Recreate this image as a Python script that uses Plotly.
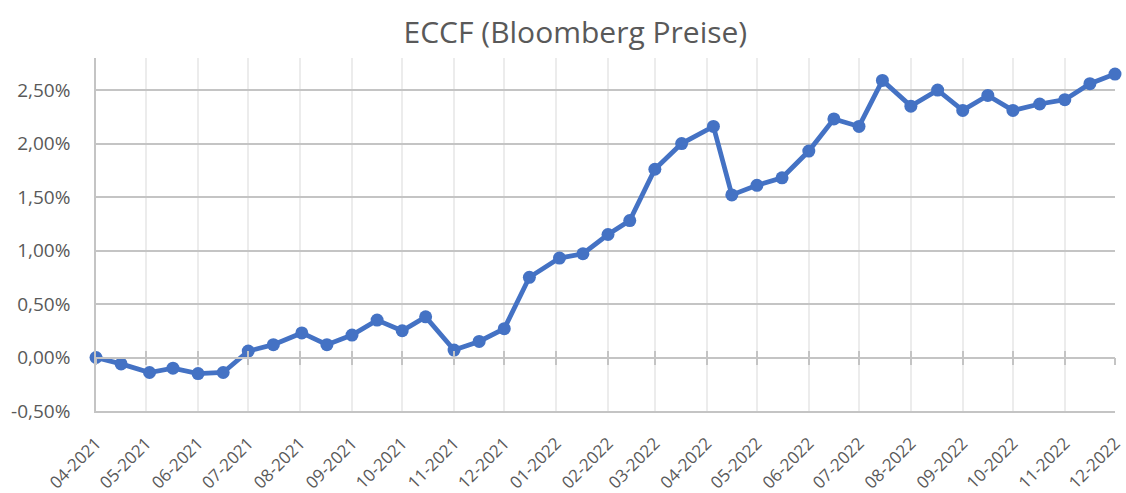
import plotly.graph_objects as go

dates = ["2021-04-01", "2021-04-16", "2021-05-03", "2021-05-17", "2021-06-01", "2021-06-16",
         "2021-07-01", "2021-07-16", "2021-08-02", "2021-08-17", "2021-09-01", "2021-09-16",
         "2021-10-01", "2021-10-15", "2021-11-01", "2021-11-16", "2021-12-01", "2021-12-16",
         "2022-01-03", "2022-01-17", "2022-02-01", "2022-02-14", "2022-03-01", "2022-03-17",
         "2022-04-05", "2022-04-16", "2022-05-01", "2022-05-16", "2022-06-01", "2022-06-16",
         "2022-07-01", "2022-07-15", "2022-08-01", "2022-08-17", "2022-09-01", "2022-09-16",
         "2022-10-01", "2022-10-17", "2022-11-01", "2022-11-16", "2022-12-01"]
values = [0.00, -0.06, -0.14, -0.10, -0.15, -0.14, 0.06, 0.12, 0.23, 0.12, 0.21, 0.35,
          0.25, 0.38, 0.07, 0.15, 0.27, 0.75, 0.93, 0.97, 1.15, 1.28, 1.76, 2.00,
          2.16, 1.52, 1.61, 1.68, 1.93, 2.23, 2.16, 2.59, 2.35, 2.50, 2.31, 2.45,
          2.31, 2.37, 2.41, 2.56, 2.65]

title = "ECCF (Bloomberg Preise)"
x_range = ["2021-04-01", "2022-12-01"]
y_range = [-0.5, 2.8]
y_ticks = [-0.5, 0.0, 0.5, 1.0, 1.5, 2.0, 2.5]
y_ticktext = [f"{v:.2f}".replace(".", ",") + "%" for v in y_ticks]

FONT = "Open Sans"
TXT = "#595959"
GRID_H = "#c4c4c4"
GRID_V = "#ececec"
BLUE = "#4472C4"

zero_pos = (0 - y_range[0]) / (y_range[1] - y_range[0])

fig = go.Figure()
# helper traces so that the zero-line tick axes get rendered (invisible)
for ax in ("x2", "x3"):
    fig.add_trace(go.Scatter(
        x=dates, y=values, xaxis=ax, yaxis="y", mode="lines",
        line=dict(width=0, color="rgba(0,0,0,0)"), opacity=0,
        hoverinfo="skip", showlegend=False,
    ))
fig.add_trace(go.Scatter(
    x=dates, y=values, mode="lines+markers",
    line=dict(color=BLUE, width=4.8),
    marker=dict(color=BLUE, size=13),
    cliponaxis=False, showlegend=False,
))

common_x = dict(type="date", range=x_range, dtick="M1", tick0="2021-04-01", automargin=False)

fig.update_layout(
    width=1126, height=493,
    paper_bgcolor="white", plot_bgcolor="white",
    margin=dict(l=96, r=11, t=58, b=82),
    separators=",.",
    font=dict(family=FONT, color=TXT, size=17),
    title=dict(text=title, x=0.511, xref="container", xanchor="center",
               y=0.935, yref="container", yanchor="middle",
               automargin=False,
               font=dict(family=FONT, size=30, color=TXT)),
    xaxis=dict(**common_x, tickformat="%m-%Y", tickangle=-45,
               showgrid=True, gridcolor=GRID_V, gridwidth=1.5,
               showline=True, linecolor=GRID_H, linewidth=1.5,
               ticks="", ticklabelstandoff=14,
               tickfont=dict(size=17, color=TXT), zeroline=False),
    xaxis2=dict(**common_x, overlaying="x", anchor="free", position=zero_pos,
                showticklabels=False, showgrid=False, zeroline=False,
                showline=True, linecolor=GRID_H, linewidth=1.5,
                ticks="outside", ticklen=7, tickcolor=GRID_H, tickwidth=1.5),
    xaxis3=dict(**common_x, overlaying="x", anchor="free", position=zero_pos,
                showticklabels=False, showgrid=False, zeroline=False,
                showline=False,
                ticks="inside", ticklen=7, tickcolor=GRID_H, tickwidth=1.5),
    yaxis=dict(range=y_range, tickvals=y_ticks, ticktext=y_ticktext,
               showgrid=True, gridcolor=GRID_H, gridwidth=1.5,
               showline=True, linecolor=GRID_H, linewidth=1.5,
               zeroline=False, ticks="", ticklabelstandoff=20, automargin=False,
               tickfont=dict(size=19, color=TXT)),
)

fig.write_html("out.html", config={"displayModeBar": False},
               post_script="document.body.style.margin='0px';")
